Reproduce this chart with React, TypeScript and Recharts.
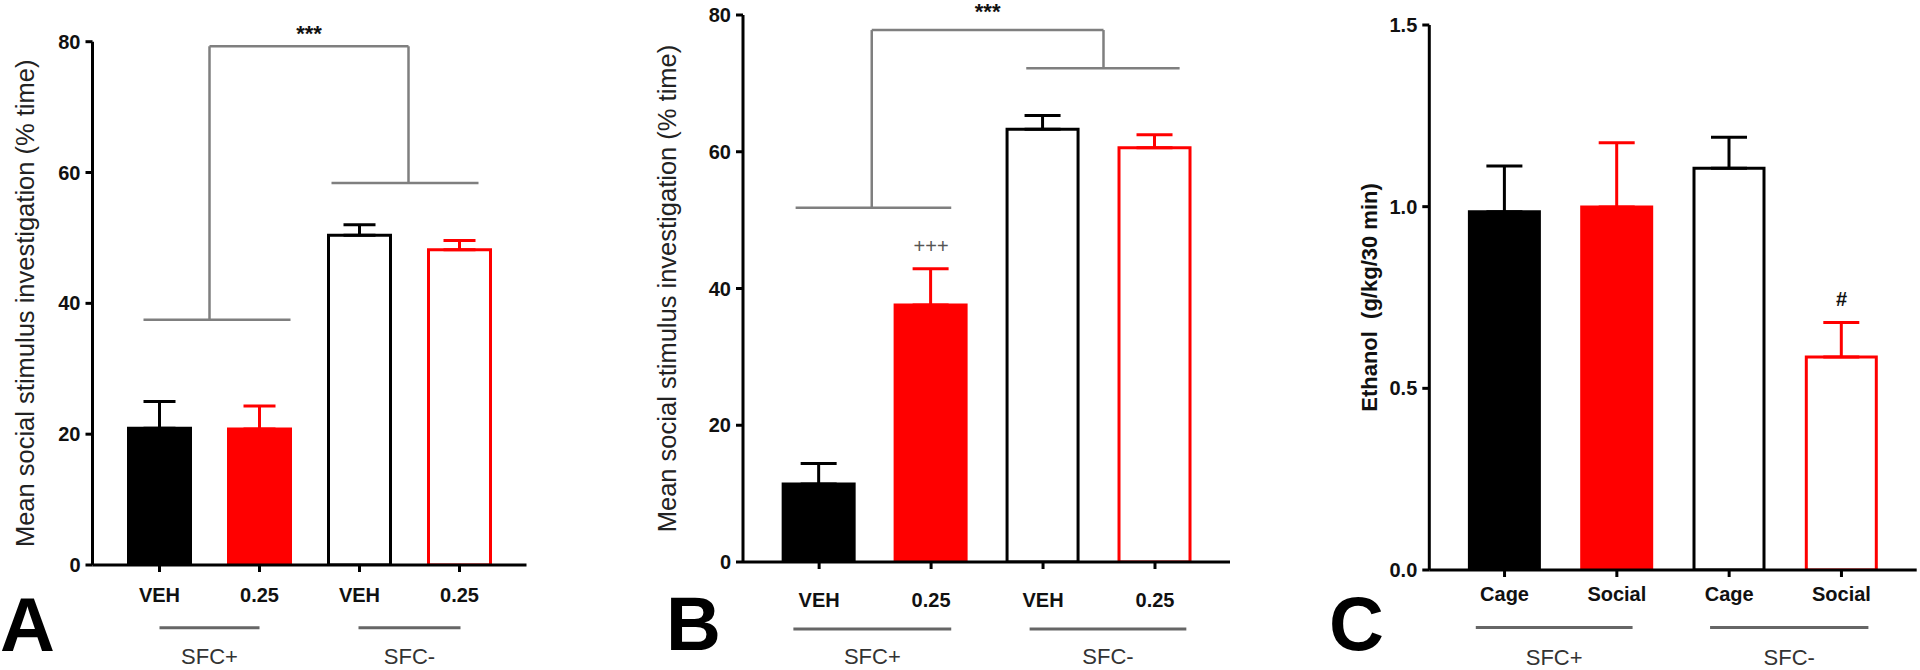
import { BarChart, Bar, XAxis, YAxis, Cell, ErrorBar, ReferenceLine, ReferenceDot } from 'recharts';

// values (means + upward SEM)
const GROUP_NAMES = ['SFC+', 'SFC-'];
const DOSE_LABELS = ['VEH', '0.25', 'VEH', '0.25'];
const TEST_LABELS = ['Cage', 'Social', 'Cage', 'Social'];

const A_MEAN = [20.9, 20.8, 50.4, 48.2];
const A_SEM = [4.1, 3.5, 1.6, 1.4];
const B_MEAN = [11.4, 37.6, 63.3, 60.6];
const B_SEM = [3.0, 5.3, 2.0, 1.9];
const C_MEAN = [0.986, 0.999, 1.106, 0.586];
const C_SEM = [0.126, 0.177, 0.085, 0.095];

const PERCENT_TICKS = [0, 20, 40, 60, 80];
const ETHANOL_TICKS = [0, 0.5, 1.0, 1.5];
const POSITIONS = [1, 2, 3, 4];

// significance brackets (data coordinates)
const A_BRACKET = { top: 79.3, leftX: 1.5, rightX: 3.49, leftFoot: 37.5, rightFoot: 58.4, leftSpan: [0.84, 2.31], rightSpan: [2.72, 4.19] };
const B_BRACKET = { top: 77.8, leftX: 1.47, rightX: 3.54, leftFoot: 51.8, rightFoot: 72.2, leftSpan: [0.79, 2.18], rightSpan: [2.85, 4.22] };

const A_GROUP_SPANS = [[1.0, 2.0], [2.99, 4.01]];
const B_GROUP_SPANS = [[0.77, 2.18], [2.88, 4.28]];
const C_GROUP_SPANS = [[0.744, 2.14], [2.83, 4.24]];

const BAR_LOOK = [
  { fill: '#000000', stroke: '#000000' },
  { fill: '#ff0000', stroke: '#ff0000' },
  { fill: '#ffffff', stroke: '#000000' },
  { fill: '#ffffff', stroke: '#ff0000' },
];

const FONT = '"Liberation Sans", Arial, sans-serif';

function toRows(means: number[], sems: number[]) {
  return means.map((m, i) => ({
    pos: POSITIONS[i],
    mean: m,
    errBlack: i % 2 === 0 ? [0, sems[i]] : undefined,
    errRed: i % 2 === 1 ? [0, sems[i]] : undefined,
  }));
}

type Bracket = typeof A_BRACKET;

type PanelProps = {
  left: number;
  width: number;
  plot: { left: number; right: number; top: number; bottom: number };
  rows: ReturnType<typeof toRows>;
  labels: string[];
  xDomain: [number, number];
  yDomain: [number, number];
  yTicks: number[];
  yFormat?: (v: number) => string;
  yLabel: string;
  yLabelOffset: number;
  yLabelFont: { fontSize: number; fontWeight: number; fill: string };
  barSize: number;
  capWidth: number;
  tickGap: number;
  tickTextGap: number;
  groupY: number;
  groupSpans: number[][];
  groupOffset: number;
  bracket?: Bracket;
  starsOffset?: number;
  mark?: { x: number; y: number; text: string; bold: boolean; fill: string };
};

function Panel(p: PanelProps) {
  const H = 670;
  const axisH = 30;
  const b = p.bracket;
  const segs = b
    ? [
        [[b.leftX, b.top], [b.rightX, b.top]],
        [[b.leftX, b.top], [b.leftX, b.leftFoot]],
        [[b.rightX, b.top], [b.rightX, b.rightFoot]],
        [[b.leftSpan[0], b.leftFoot], [b.leftSpan[1], b.leftFoot]],
        [[b.rightSpan[0], b.rightFoot], [b.rightSpan[1], b.rightFoot]],
      ]
    : [];

  return (
    <div style={{ position: 'absolute', left: p.left, top: 0 }}>
      <BarChart
        width={p.width}
        height={H}
        data={p.rows}
        margin={{ top: p.plot.top, right: p.width - p.plot.right, bottom: H - p.plot.bottom - axisH, left: 0 }}
      >
        <XAxis
          type="number"
          dataKey="pos"
          domain={p.xDomain}
          allowDataOverflow
          ticks={POSITIONS}
          interval={0}
          height={axisH}
          tickFormatter={(v: number) => p.labels[v - 1]}
          axisLine={{ stroke: '#000', strokeWidth: 3 }}
          tickLine={{ stroke: '#000', strokeWidth: 3 }}
          tickSize={p.tickGap}
          tickMargin={p.tickTextGap}
          tick={{ fill: '#111', fontSize: 20, fontWeight: 700 }}
        />
        <YAxis
          type="number"
          domain={p.yDomain}
          allowDataOverflow
          ticks={p.yTicks}
          interval={0}
          width={p.plot.left}
          tickFormatter={p.yFormat}
          axisLine={{ stroke: '#000', strokeWidth: 3 }}
          tickLine={{ stroke: '#000', strokeWidth: 3 }}
          tickSize={7}
          tickMargin={5}
          tick={{ fill: '#111', fontSize: 20, fontWeight: 700 }}
          label={{
            value: p.yLabel,
            angle: -90,
            position: 'insideLeft',
            offset: p.yLabelOffset,
            style: { textAnchor: 'middle' },
            ...p.yLabelFont,
          }}
        />
        <Bar dataKey="mean" barSize={p.barSize} isAnimationActive={false}>
          {p.rows.map((r, i) => (
            <Cell key={r.pos} fill={BAR_LOOK[i].fill} stroke={BAR_LOOK[i].stroke} strokeWidth={3} />
          ))}
          <ErrorBar dataKey="errBlack" direction="y" width={p.capWidth} stroke="#000" strokeWidth={3} isAnimationActive={false} />
          <ErrorBar dataKey="errRed" direction="y" width={p.capWidth} stroke="#ff0000" strokeWidth={3} isAnimationActive={false} />
        </Bar>

        {segs.map((s, i) => (
          <ReferenceLine
            key={'br' + i}
            segment={[{ x: s[0][0], y: s[0][1] }, { x: s[1][0], y: s[1][1] }]}
            stroke="#7f7f7f"
            strokeWidth={2.5}
            ifOverflow="visible"
            label={
              i === 0
                ? { value: '***', position: 'top', offset: p.starsOffset ?? 5, fontSize: 22, fontWeight: 700, fill: '#111' }
                : undefined
            }
          />
        ))}

        {p.groupSpans.map((g, i) => (
          <ReferenceLine
            key={'grp' + i}
            segment={[{ x: g[0], y: p.groupY }, { x: g[1], y: p.groupY }]}
            stroke="#666"
            strokeWidth={3}
            ifOverflow="visible"
            label={{ value: GROUP_NAMES[i], position: 'bottom', offset: p.groupOffset, fontSize: 22, fill: '#333' }}
          />
        ))}

        {p.mark && (
          <ReferenceDot
            x={p.mark.x}
            y={p.mark.y}
            r={0}
            fill="none"
            stroke="none"
            ifOverflow="visible"
            label={{
              value: p.mark.text,
              position: 'center',
              fontSize: 20,
              fontWeight: p.mark.bold ? 700 : 400,
              fill: p.mark.fill,
            }}
          />
        )}
      </BarChart>
    </div>
  );
}

export default function App() {
  return (
    <div style={{ position: 'absolute', left: 0, top: 0, width: 1920, height: 670, background: '#fff', fontFamily: FONT }}>
      <Panel
        left={0}
        width={560}
        plot={{ left: 92.5, right: 526.5, top: 41.7, bottom: 565 }}
        rows={toRows(A_MEAN, A_SEM)}
        labels={DOSE_LABELS}
        xDomain={[0.33, 4.67]}
        yDomain={[0, 80]}
        yTicks={PERCENT_TICKS}
        yLabel="Mean social stimulus investigation (% time)"
        yLabelOffset={24.5}
        yLabelFont={{ fontSize: 25.5, fontWeight: 400, fill: '#222' }}
        barSize={62}
        capWidth={16}
        tickGap={7}
        tickTextGap={16}
        groupY={-9.6}
        groupSpans={A_GROUP_SPANS}
        groupOffset={21}
        bracket={A_BRACKET}
        starsOffset={5}
      />
      <Panel
        left={640}
        width={640}
        plot={{ left: 103, right: 590, top: 15, bottom: 562 }}
        rows={toRows(B_MEAN, B_SEM)}
        labels={DOSE_LABELS}
        xDomain={[0.32, 4.67]}
        yDomain={[0, 80]}
        yTicks={PERCENT_TICKS}
        yLabel="Mean social stimulus investigation (% time)"
        yLabelOffset={27}
        yLabelFont={{ fontSize: 25.5, fontWeight: 400, fill: '#222' }}
        barSize={71}
        capWidth={18}
        tickGap={7}
        tickTextGap={24}
        groupY={-9.8}
        groupSpans={B_GROUP_SPANS}
        groupOffset={19}
        bracket={B_BRACKET}
        starsOffset={11.5}
        mark={{ x: 2, y: 46.2, text: '+++', bold: false, fill: '#555' }}
      />
      <Panel
        left={1280}
        width={640}
        plot={{ left: 149.3, right: 636.7, top: 25, bottom: 570 }}
        rows={toRows(C_MEAN, C_SEM)}
        labels={TEST_LABELS}
        xDomain={[0.33, 4.67]}
        yDomain={[0, 1.5]}
        yTicks={ETHANOL_TICKS}
        yFormat={(v: number) => v.toFixed(1)}
        yLabel={'Ethanol\u00a0 (g/kg/30 min)'}
        yLabelOffset={89}
        yLabelFont={{ fontSize: 22, fontWeight: 700, fill: '#111' }}
        barSize={70}
        capWidth={18}
        tickGap={7}
        tickTextGap={10}
        groupY={-0.158}
        groupSpans={C_GROUP_SPANS}
        groupOffset={21.5}
        mark={{ x: 4, y: 0.745, text: '#', bold: true, fill: '#111' }}
      />
      <svg width={1920} height={670} style={{ position: 'absolute', left: 0, top: 0, pointerEvents: 'none' }}>
        <g fontFamily={FONT} fontWeight={700} fontSize={76} fill="#000">
          <text x={0} y={651}>A</text>
          <text x={666} y={650}>B</text>
          <text x={1329} y={650}>C</text>
        </g>
      </svg>
    </div>
  );
}
